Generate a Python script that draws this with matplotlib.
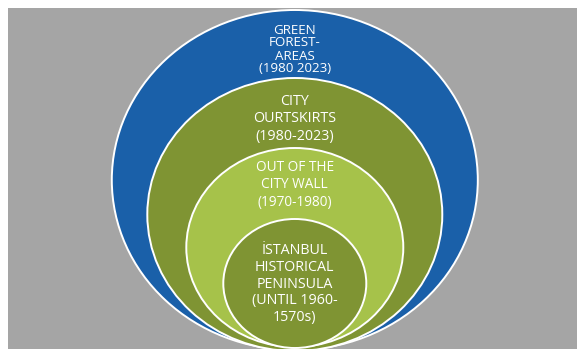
import matplotlib
matplotlib.use("Agg")
import matplotlib.pyplot as plt
from matplotlib.patches import Ellipse, Rectangle

# Data: nested layers (outer -> inner)
labels = [
    "GREEN\nFOREST-\nAREAS\n(1980 2023)",
    "CITY\nOURTSKIRTS\n(1980-2023)",
    "OUT OF THE\nCITY WALL\n(1970-1980)",
    "İSTANBUL\nHISTORICAL\nPENINSULA\n(UNTIL 1960-\n1570s)",
]
colors = ["#1a60a9", "#7f9433", "#a6c24a", "#7f9433"]

# Layout (pixel coordinates of a 577x349 canvas)
W, H = 577, 349
cx = 294.8
tops = [10, 78, 148, 219]
bottoms = [350, 351, 347, 348]
widths = [366, 295, 217, 143]
label_y = [49.5, 119, 185, 284]
font_sizes = [9.6, 10.3, 9.8, 10.3]
line_sp = [1.0, 1.25, 1.2, 1.15]

fig = plt.figure(figsize=(W / 100, H / 100), dpi=100)
ax = fig.add_axes([0, 0, 1, 1])
ax.set_xlim(0, W)
ax.set_ylim(H, 0)
ax.axis("off")

ax.add_patch(Rectangle((8, 8), W - 8, H - 8, facecolor="#a5a5a5", edgecolor="none"))

for i, lab in enumerate(labels):
    cy = (tops[i] + bottoms[i]) / 2
    h = bottoms[i] - tops[i]
    ax.add_patch(Ellipse((cx, cy), widths[i], h, facecolor=colors[i],
                         edgecolor="white", linewidth=1.4, zorder=2 + i))
    ax.text(cx, label_y[i], lab, ha="center", va="center", color="white",
            fontsize=font_sizes[i], family=["Open Sans", "DejaVu Sans"],
            linespacing=line_sp[i], zorder=10)

fig.savefig("out.png", dpi=100)
